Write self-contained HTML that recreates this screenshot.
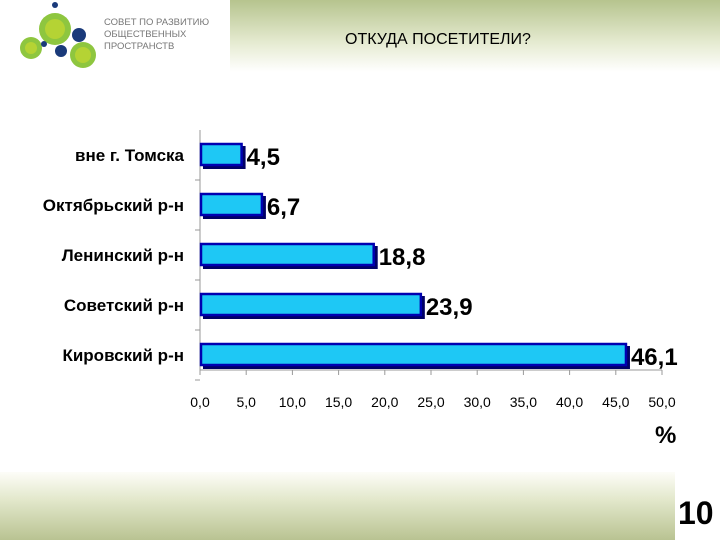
<!DOCTYPE html>
<html><head><meta charset="utf-8"><style>
body{margin:0;width:720px;height:540px;overflow:hidden;background:#fff;font-family:"Liberation Sans",sans-serif;position:relative}
.abs{position:absolute}
</style></head><body>
<div class="abs" style="left:230px;top:0;width:490px;height:72px;background:linear-gradient(#b6c48e,#e6ebd2 60%,#fff)"></div>
<div class="abs" style="left:0;top:472px;width:675px;height:68px;background:linear-gradient(#fdfdf8,#e3e8cc 40%,#b9c392)"></div>
<svg class="abs" style="left:15px;top:0" width="85" height="70">
<circle cx="40" cy="5" r="3" fill="#1a3a7a"/><circle cx="40" cy="29" r="16" fill="#8ec63f"/><circle cx="40" cy="29" r="10" fill="#b5d334"/>
<circle cx="64" cy="35" r="7" fill="#1a3a7a"/><circle cx="16" cy="48" r="11" fill="#8ec63f"/><circle cx="16" cy="48" r="6" fill="#b5d334"/>
<circle cx="46" cy="51" r="6" fill="#1a3a7a"/><circle cx="29" cy="44" r="3" fill="#1a3a7a"/><circle cx="68" cy="55" r="13" fill="#8ec63f"/><circle cx="68" cy="55" r="8" fill="#b5d334"/>
</svg>
<div class="abs" style="left:104px;top:17px;font-size:9.5px;color:#777;line-height:12px">СОВЕТ ПО РАЗВИТИЮ<br>ОБЩЕСТВЕННЫХ<br>ПРОСТРАНСТВ</div>
<div class="abs" style="left:345px;top:31px;font-size:16px;color:#000">ОТКУДА ПОСЕТИТЕЛИ?</div>
<div class="abs" style="left:678px;top:495px;font-size:32px;font-weight:bold">10</div>
<svg class="abs" id="chart" style="left:0;top:0" width="720" height="540"></svg>
<script>
const categories=["вне г. Томска","Октябрьский р-н","Ленинский р-н","Советский р-н","Кировский р-н"];
const values=[4.5,6.7,18.8,23.9,46.1];
const valueLabels=["4,5","6,7","18,8","23,9","46,1"];
const ticks=[0,5,10,15,20,25,30,35,40,45,50];
const tickLabels=["0,0","5,0","10,0","15,0","20,0","25,0","30,0","35,0","40,0","45,0","50,0"];
const svg=document.getElementById('chart');const NS='http://www.w3.org/2000/svg';
const x=v=>200+v*9.24;const y=i=>155+i*50;
function mk(t,a,txt){const e=document.createElementNS(NS,t);for(const k in a)e.setAttribute(k,a[k]);if(txt!==undefined)e.textContent=txt;svg.appendChild(e);return e;}
let e=mk('line',{x1:200,y1:130,x2:200,y2:370,stroke:'#999'});

e=mk('line',{x1:200,y1:370,x2:x(50),y2:370,stroke:'#999'});

ticks.forEach((t,i)=>{
 mk('line',{x1:x(t),y1:370,x2:x(t),y2:375,stroke:'#999'});
 e=mk('text',{x:x(t),y:407,'text-anchor':'middle','font-size':14,fill:'#000'},tickLabels[i]);
 
});
categories.forEach((c,i)=>{
 mk('line',{x1:195,y1:y(i)+25,x2:200,y2:y(i)+25,stroke:'#999'});
 e=mk('text',{x:184,y:y(i)+6,'text-anchor':'end','font-size':17,'font-weight':'bold',textLength:0},c);
 e.removeAttribute('textLength');
 
 mk('rect',{x:203,y:y(i)-9,width:x(values[i])-199,height:23,fill:'#000066'});
 e=mk('rect',{x:201,y:y(i)-11,width:x(values[i])-201,height:21,fill:'#1ec8f5',stroke:'#0000b0','stroke-width':2.5});
 
 e=mk('text',{x:x(values[i])+5,y:y(i)+10,'font-size':24,'font-weight':'bold'},valueLabels[i]);
 
});
e=mk('text',{x:655,y:443,'font-size':24,'font-weight':'bold'},'%');

</script>
</body></html>
